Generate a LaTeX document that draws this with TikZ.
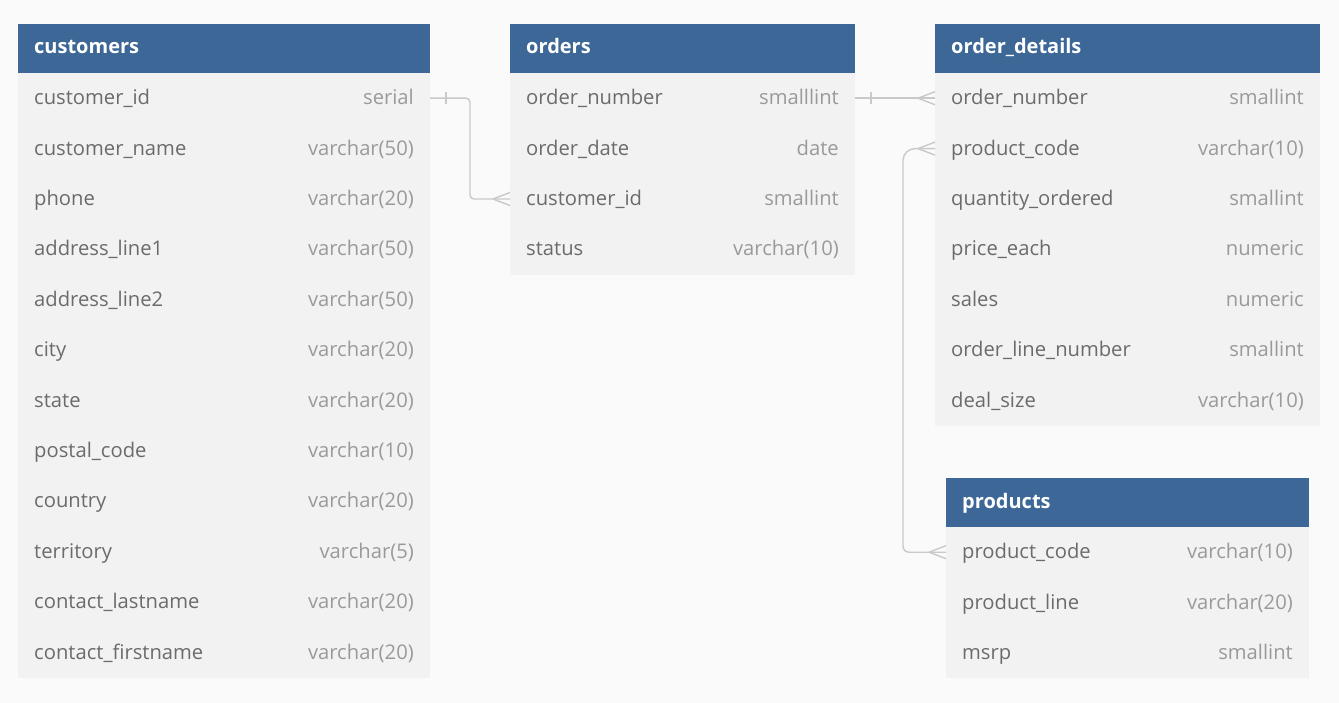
\documentclass[tikz,border=0pt]{standalone}
\usepackage{fontspec}
\setmainfont{Open Sans}
\usetikzlibrary{calc}
\definecolor{hdr}{HTML}{3C6797}
\definecolor{rowbg}{HTML}{F2F2F2}
\definecolor{canvas}{HTML}{FAFAFA}
\definecolor{nametxt}{HTML}{6B6B6B}
\definecolor{typetxt}{HTML}{9A9A9A}
\definecolor{conn}{HTML}{C9C9C9}
\tikzset{
  hdrbox/.style={fill=hdr, draw=none, anchor=north west, minimum height=49pt, inner sep=0pt, outer sep=0pt},
  rowbox/.style={fill=rowbg, draw=none, anchor=north west, minimum height=50.4pt, inner sep=0pt, outer sep=0pt},
  hdrtxt/.style={anchor=base west, inner sep=0pt, text=white, font=\fontsize{20}{24}\selectfont\bfseries},
  nmtxt/.style={anchor=base west, inner sep=0pt, text=nametxt, font=\fontsize{20.2}{24}\selectfont},
  tytxt/.style={anchor=base east, inner sep=0pt, text=typetxt, font=\fontsize{20.2}{24}\selectfont},
  connline/.style={draw=conn, line width=1.4pt},
}
\newcommand{\erdtable}[6]{%
  \node[hdrbox, minimum width=#4] (#1-h) at (#2,#3) {};
  \node[hdrtxt] (#1-ht) at ($(#1-h.west)+(16,5.5)$) {#5};
  \foreach \nm/\ty [count=\i] in {#6} {
    \node[rowbox, minimum width=#4] (#1-r\i) at ($(#2,#3)+(0,{49+(\i-1)*50.4})$) {};
    \node[nmtxt] (#1-n\i) at ($(#1-r\i.west)+(16,6.5)$) {\nm};
    \node[tytxt] (#1-t\i) at ($(#1-r\i.east)+(-16,6.5)$) {\ty};
  }
}
\newcommand{\crowW}[1]{\draw[connline] ($(#1)+(-17,0)$) -- ($(#1)+(0,-6.5)$) ($(#1)+(-17,0)$) -- ($(#1)+(0,6.5)$);}
\newcommand{\barE}[1]{\draw[connline] ($(#1)+(16,-6)$) -- ($(#1)+(16,6)$);}
\begin{document}
\begin{tikzpicture}[x=1pt,y=-1pt]
\fill[canvas] (0,0) rectangle (1339,703);
\useasboundingbox (0,0) rectangle (1339,703);

\erdtable{cust}{18}{24}{412}{customers}{customer\_id/serial, customer\_name/varchar(50), phone/varchar(20), address\_line1/varchar(50), address\_line2/varchar(50), city/varchar(20), state/varchar(20), postal\_code/varchar(10), country/varchar(20), territory/varchar(5), contact\_lastname/varchar(20), contact\_firstname/varchar(20)}

\erdtable{ord}{510}{24}{345}{orders}{order\_number/smalllint, order\_date/date, customer\_id/smallint, status/varchar(10)}

\erdtable{od}{935}{24}{385}{order\_details}{order\_number/smallint, product\_code/varchar(10), quantity\_ordered/smallint, price\_each/numeric, sales/numeric, order\_line\_number/smallint, deal\_size/varchar(10)}

\erdtable{prod}{946}{478}{363}{products}{product\_code/varchar(10), product\_line/varchar(20), msrp/smallint}

% customers.customer_id -> orders.customer_id
\draw[connline, rounded corners=4pt] (cust-r1.east) -| ($(ord-r3.west)+(-40,0)$) -- (ord-r3.west);
\barE{cust-r1.east}
\crowW{ord-r3.west}

% orders.order_number -> order_details.order_number
\draw[connline] (ord-r1.east) -- (od-r1.west);
\barE{ord-r1.east}
\crowW{od-r1.west}

% order_details.product_code <-> products.product_code
\draw[connline] (od-r2.west) -- ($(od-r2.west)+(-20,0)$) arc[start angle=270, end angle=180, radius=12]
  -- ($(prod-r1.west)+(-43,-6)$) arc[start angle=180, end angle=90, radius=6] -- (prod-r1.west);
\crowW{od-r2.west}
\crowW{prod-r1.west}
\end{tikzpicture}
\end{document}
